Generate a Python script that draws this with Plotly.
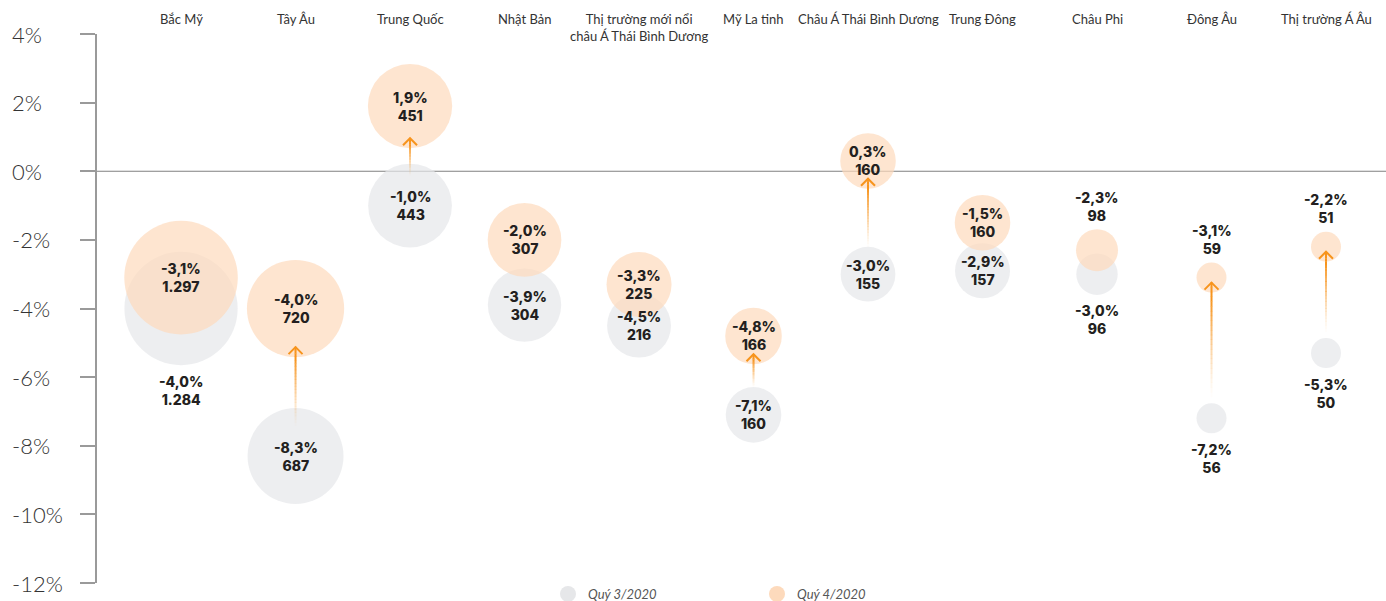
import numpy as np
import plotly.graph_objects as go

# du lieu
khu_vuc = ["Bắc Mỹ", "Tây Âu", "Trung Quốc", "Nhật Bản",
           "Thị trường mới nổi<br>châu Á Thái Bình Dương", "Mỹ La tinh",
           "Châu Á Thái Bình Dương", "Trung Đông", "Châu Phi", "Đông Âu",
           "Thị trường Á Âu"]
tang_q3 = [-4.0, -8.3, -1.0, -3.9, -4.5, -7.1, -3.0, -2.9, -3.0, -7.2, -5.3]
tang_q4 = [-3.1, -4.0, 1.9, -2.0, -3.3, -4.8, 0.3, -1.5, -2.3, -3.1, -2.2]
gt_q3 = [1284, 687, 443, 304, 216, 160, 155, 157, 96, 56, 50]
gt_q4 = [1297, 720, 451, 307, 225, 166, 160, 160, 98, 59, 51]
y_ticks = [4, 2, 0, -2, -4, -6, -8, -10, -12]

W, H = 1386, 601
ML, MR, MT, MB = 97, 0, 34, 18
Y_MIN, Y_MAX = -12, 4
PX = (H - MT - MB) / (Y_MAX - Y_MIN)   # pixel cho 1%

C_Q3 = "#E6E7E9"
C_Q4 = "#FDDABC"
C_ARROW = (247, 148, 29)
C_TEXT = "#231F20"


def duong_kinh(v):
    return np.maximum(27.7 * np.log(np.array(v, dtype=float)) - 85, 30)


def fmt_pct(v):
    return f"{v:.1f}%".replace(".", ",")


def fmt_num(v):
    return f"{v:,}".replace(",", ".")


d3 = duong_kinh(gt_q3)
d4 = duong_kinh(gt_q4)
x = list(range(len(khu_vuc)))

fig = go.Figure()

fig.add_trace(go.Scatter(x=x, y=tang_q3, mode="markers", showlegend=False,
                         marker=dict(size=d3, color=C_Q3, line=dict(width=0)),
                         hoverinfo="skip"))
fig.add_trace(go.Scatter(x=x, y=tang_q4, mode="markers", showlegend=False,
                         marker=dict(size=d4, color=C_Q4, line=dict(width=0)),
                         hoverinfo="skip"))

# chu giai
fig.add_trace(go.Scatter(x=[None], y=[None], mode="markers", name="Quý 3/2020",
                         marker=dict(size=16, color=C_Q3)))
fig.add_trace(go.Scatter(x=[None], y=[None], mode="markers", name="Quý 4/2020",
                         marker=dict(size=16, color=C_Q4)))

shapes = []
annots = []

# duong 0%
shapes.append(dict(type="line", xref="paper", yref="y",
                   x0=-15 / (W - ML - MR), x1=1, y0=0, y1=0,
                   line=dict(color="#808080", width=1.2), layer="below"))

# mui ten
orange = f"rgb({C_ARROW[0]},{C_ARROW[1]},{C_ARROW[2]})"
for i in x:
    r3, r4 = d3[i] / 2, d4[i] / 2
    gap = (tang_q4[i] - tang_q3[i]) * PX - r3 - r4
    if gap <= 0:
        continue
    tip = tang_q4[i] - max(r4 - 10, 5) / PX
    start = tang_q3[i] + max(min(r3, 30), 21) / PX
    n = 24
    ys = np.linspace(start, tip, n + 1)
    for k in range(n):
        a = (k + 1) / n
        shapes.append(dict(type="line", xref="x", yref="y", x0=i, x1=i,
                           y0=ys[k], y1=ys[k + 1] + 0.3 / PX, layer="above",
                           line=dict(color=f"rgba({C_ARROW[0]},{C_ARROW[1]},{C_ARROW[2]},{min(a * 1.15, 1) ** 1.4:.3f})",
                                     width=2)))
    shapes.append(dict(type="path", xref="x", yref="y", layer="above",
                       xsizemode="pixel", ysizemode="pixel", xanchor=i, yanchor=tip,
                       path="M-7,-7 L0,0 L7,-7",
                       line=dict(color=orange, width=2)))

# nhan so lieu
lbl_font = dict(family="Inter, Lato, sans-serif", size=14, color=C_TEXT, weight=800)
for i in x:
    r3, r4 = d3[i] / 2, d4[i] / 2
    t4 = f"{fmt_pct(tang_q4[i])}<br>{fmt_num(gt_q4[i])}"
    t3 = f"{fmt_pct(tang_q3[i])}<br>{fmt_num(gt_q3[i])}"
    sh4 = 0 if d4[i] >= 45 else r4 + 23
    overlap = (tang_q4[i] - tang_q3[i]) * PX < 0.6 * r3
    sh3 = 0 if (d3[i] >= 45 and not overlap) else -(r3 + 25)
    annots.append(dict(x=i, y=tang_q4[i], xref="x", yref="y", text=t4, showarrow=False,
                       yshift=sh4, font=lbl_font, align="center"))
    annots.append(dict(x=i, y=tang_q3[i], xref="x", yref="y", text=t3, showarrow=False,
                       yshift=sh3, font=lbl_font, align="center"))

# ten khu vuc
for i, ten in enumerate(khu_vuc):
    annots.append(dict(x=i, y=1, xref="x", yref="paper", text=ten, showarrow=False,
                       yanchor="top", yshift=25, align="center",
                       font=dict(family="Lato, sans-serif", size=13, color="#333333", weight=400)))

# nhan truc tung (can trai)
for v in y_ticks:
    annots.append(dict(x=(10 - ML) / (W - ML - MR), y=v, xref="paper", yref="y",
                       text=f"{v}%", showarrow=False, xanchor="left", yanchor="middle",
                       font=dict(family="Lato, sans-serif", size=22, color="#333333", weight=300)))

fig.update_layout(
    width=W, height=H,
    margin=dict(l=ML, r=MR, t=MT, b=MB, autoexpand=False),
    paper_bgcolor="white", plot_bgcolor="white",
    shapes=shapes, annotations=annots,
    legend=dict(orientation="h", x=(548 - ML) / (W - ML - MR), xanchor="left",
                y=(H - MB - 594) / (H - MT - MB), yanchor="middle",
                entrywidth=164, entrywidthmode="pixels",
                font=dict(family="Lato, sans-serif", size=13, color="#555555", style="italic"),
                bgcolor="rgba(0,0,0,0)"),
)

fig.update_xaxes(range=[-0.734, 10.524], showgrid=False, zeroline=False,
                 showticklabels=False, showline=False, ticks="", automargin=False)
fig.update_yaxes(range=[Y_MIN, Y_MAX], showgrid=False, zeroline=False, automargin=False,
                 tickvals=y_ticks, showticklabels=False,
                 ticks="outside", ticklen=15, tickwidth=1.5, tickcolor="#9a9a9a",
                 showline=True, linecolor="#9a9a9a", linewidth=1.5)

# bo le mac dinh cua trang
fig.write_html("out.html", config={"displayModeBar": False},
               post_script="document.body.style.margin='0';")
